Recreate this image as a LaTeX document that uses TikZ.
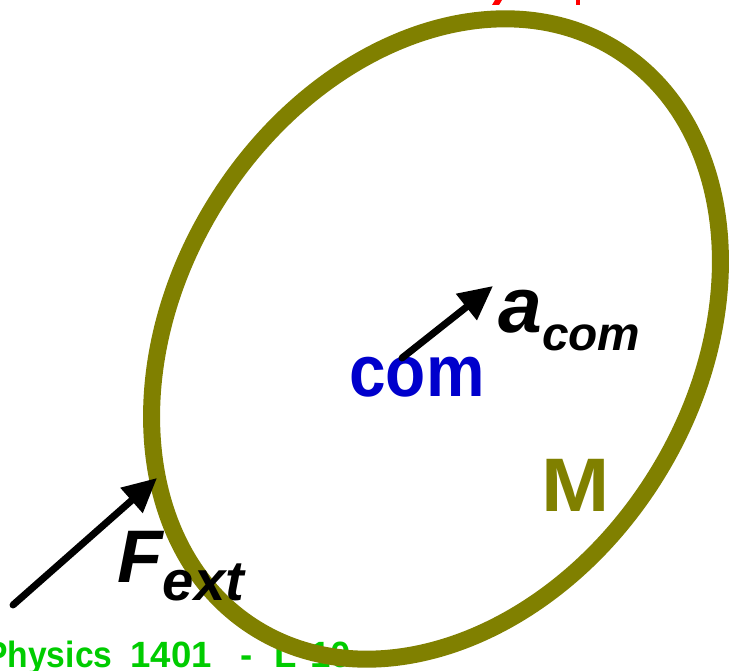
\documentclass[tikz,border=0pt]{standalone}
\usepackage{fontspec}
\setmainfont{Liberation Sans}
\usetikzlibrary{arrows.meta}
\definecolor{Olive}{HTML}{808000}
\definecolor{ComBlue}{HTML}{0000CC}
\definecolor{Footer}{HTML}{00CC00}
\definecolor{Eqn}{HTML}{FF0000}

\begin{document}
\begin{tikzpicture}[x=0.25mm,y=-0.25mm,
    lbl/.style={inner sep=0pt,anchor=base west},
    vec/.style={line width=1.75mm,line cap=round,-{Triangle[length=8.5mm,width=8mm]}}]
  \useasboundingbox (0,0) rectangle (731,671);
  \clip (0,0) rectangle (731,671);
  % footer sits under the body
  \node[lbl,text=Footer,font=\fontsize{26}{26}\selectfont\bfseries] (foot) at (-15,667)
    {\scalebox{0.92}[1]{Physics}\hspace{12.8pt}1401\hspace{20.3pt}-\hspace{16pt}L\hspace{9.2pt}10};
  % cut-off line of the slide title
  \fill[Eqn] (492,5) -- (495,0) -- (502,0) -- (499,5) -- cycle;
  \fill[Eqn] (576,0) rectangle (580,5);
  % the body
  \draw[Olive,line width=4.25mm,rotate around={58:(436,339)}] (436,339) ellipse [x radius=341,y radius=259];
  \node[lbl,text=ComBlue,font=\fontsize{52}{52}\selectfont\bfseries] (com) at (349,396) {\scalebox{0.9}[1]{com}};
  \node[lbl,text=Olive,font=\fontsize{54}{54}\selectfont\bfseries] (mass) at (541,511) {\scalebox{1.08}[1]{M}};
  \node[lbl,font=\bfseries\itshape] (acc) at (498,332)
    {\fontsize{56}{56}\selectfont a\raisebox{-13.5pt}{\fontsize{34}{34}\selectfont com}};
  \node[lbl,font=\bfseries\itshape] (force) at (117,582)
    {\fontsize{53}{53}\selectfont F\raisebox{-13.5pt}{\fontsize{40}{40}\selectfont ext}};
  \coordinate (acc0) at (402,358);
  \coordinate (acc1) at (493,286);
  \coordinate (force0) at (13,605);
  \coordinate (force1) at (157,478);
  \draw[vec] (acc0) -- (acc1);
  \draw[vec] (force0) -- (force1);
\end{tikzpicture}
\end{document}
